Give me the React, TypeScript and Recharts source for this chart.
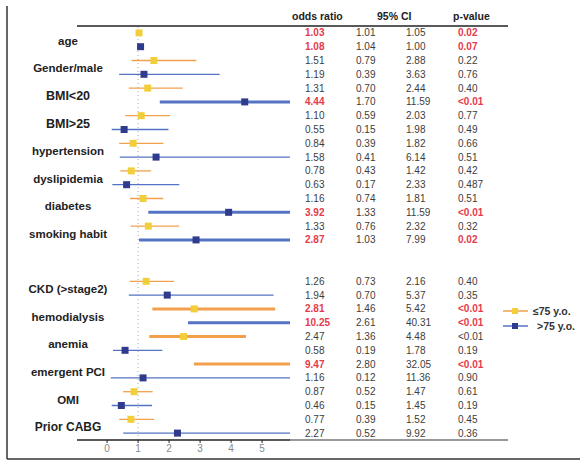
import React from 'react'
import { ComposedChart, Scatter, ErrorBar, XAxis, YAxis, ReferenceLine } from 'recharts'

const labels = ['age', 'Gender/male', 'BMI<20', 'BMI>25', 'hypertension', 'dyslipidemia', 'diabetes', 'smoking habit', 'CKD (>stage2)', 'hemodialysis', 'anemia', 'emergent PCI', 'OMI', 'Prior CABG']

// ≤75 y.o.
const youngOr = [1.03, 1.51, 1.31, 1.10, 0.84, 0.78, 1.16, 1.33, 1.26, 2.81, 2.47, 9.47, 0.87, 0.77]
const youngLow = [1.01, 0.79, 0.70, 0.59, 0.39, 0.43, 0.74, 0.76, 0.73, 1.46, 1.36, 2.80, 0.52, 0.39]
const youngHigh = [1.05, 2.88, 2.44, 2.03, 1.82, 1.42, 1.81, 2.32, 2.16, 5.42, 4.48, 32.05, 1.47, 1.52]
const youngP = ['0.02', '0.22', '0.40', '0.77', '0.66', '0.42', '0.51', '0.32', '0.40', '<0.01', '<0.01', '<0.01', '0.61', '0.45']
const youngRed = [1, 0, 0, 0, 0, 0, 0, 0, 0, 1, 0, 1, 0, 0]

// >75 y.o.
const oldOr = [1.08, 1.19, 4.44, 0.55, 1.58, 0.63, 3.92, 2.87, 1.94, 10.25, 0.58, 1.16, 0.46, 2.27]
const oldLow = [1.04, 0.39, 1.70, 0.15, 0.41, 0.17, 1.33, 1.03, 0.70, 2.61, 0.19, 0.12, 0.15, 0.52]
const oldHigh = [1.00, 3.63, 11.59, 1.98, 6.14, 2.33, 11.59, 7.99, 5.37, 40.31, 1.78, 11.36, 1.45, 9.92]
const oldP = ['0.07', '0.76', '<0.01', '0.49', '0.51', '0.487', '<0.01', '0.02', '0.35', '<0.01', '0.19', '0.90', '0.19', '0.36']
const oldRed = [1, 0, 1, 0, 0, 0, 1, 1, 0, 1, 0, 0, 0, 0]

const xTicks = [0, 1, 2, 3, 4, 5]
const X_MIN = -0.97
const X_MAX = 5.9

const ORANGE = '#f3a04c'
const YELLOW = '#f2cf3a'
const BLUE = '#5573c4'
const NAVY = '#2f3b8c'
const RED = '#e63a4a'
const TXT = '#3c3c3c'

const W = 580
const H = 462
const TOP = 26
const BOTTOM = 440
const ROWS = 30
const rowH = (BOTTOM - TOP) / ROWS

const rowOf = (i: number, g: number) => 2 * i + g + (i >= 8 ? 2 : 0)
const rowY = (r: number) => TOP + (r + 0.5) * rowH

// CI whiskers are cut at the axis range, like the clipped plot in the original
const build = (or: number[], low: number[], high: number[], g: number, thick: boolean) =>
  or
    .map((v, i) => ({
      x: v,
      y: rowOf(i, g),
      err: [v - Math.max(X_MIN, Math.min(v, low[i])), Math.min(X_MAX, Math.max(v, high[i])) - v],
      i,
    }))
    .filter((d) => (d.i > 0 && low[d.i] > 1) === thick)

const youngThin = build(youngOr, youngLow, youngHigh, 0, false)
const youngThick = build(youngOr, youngLow, youngHigh, 0, true)
const oldThin = build(oldOr, oldLow, oldHigh, 1, false)
const oldThick = build(oldOr, oldLow, oldHigh, 1, true)

const labelTicks = labels.map((_, i) => rowOf(i, 0) + 0.5)

const LabelTick = (props: any) => {
  const { y, payload } = props
  const idx = labelTicks.indexOf(payload.value)
  const text = labels[idx]
  const bmi = text.startsWith('BMI')
  const size = bmi ? 12.5 : text === 'Prior CABG' ? 12 : 11.5
  return (
    <text x={68} y={y + 1} dy="0.35em" textAnchor="middle" fontSize={size} fontWeight={bmi ? 600 : 700} fill="#222" fontFamily="Liberation Sans, Arial, sans-serif">
      {text}
    </text>
  )
}

const square = (fill: string) => (p: any) =>
  p.payload.x > X_MAX ? <g /> : <rect x={p.cx - 3.5} y={p.cy - 3.5} width={7} height={7} fill={fill} />

const colX = { or: 305, lo: 356, hi: 406, p: 458 }

function Table() {
  const rows: React.ReactNode[] = []
  labels.forEach((_, i) => {
    ;[0, 1].forEach((g) => {
      const or = g ? oldOr : youngOr
      const lo = g ? oldLow : youngLow
      const hi = g ? oldHigh : youngHigh
      const p = g ? oldP : youngP
      const red = (g ? oldRed : youngRed)[i]
      const y = rowY(rowOf(i, g))
      rows.push(
        <g key={`${i}-${g}`} fontSize={10} fontFamily="Liberation Sans, Arial, sans-serif">
          <text x={colX.or} y={y} dy="0.35em" fill={red ? RED : TXT} fontWeight={red ? 700 : 400}>{or[i].toFixed(2)}</text>
          <text x={colX.lo} y={y} dy="0.35em" fill={TXT}>{lo[i].toFixed(2)}</text>
          <text x={colX.hi} y={y} dy="0.35em" fill={TXT}>{hi[i].toFixed(2)}</text>
          <text x={colX.p} y={y} dy="0.35em" fill={red ? RED : TXT} fontWeight={red ? 700 : 400}>{p[i]}</text>
        </g>
      )
    })
  })
  return <>{rows}</>
}

export default function App() {
  return (
    <div style={{ position: 'absolute', left: 0, top: 0, width: W, height: H, background: '#fff' }}>
      <ComposedChart width={W} height={H} margin={{ top: TOP, right: W - 290, bottom: H - BOTTOM - 20, left: 0 }}>
        <XAxis
          type="number"
          dataKey="x"
          domain={[X_MIN, X_MAX]}
          allowDataOverflow
          ticks={xTicks}
          height={20}
          tick={{ fill: '#888', fontSize: 10, fontFamily: 'Liberation Sans, Arial, sans-serif' }}
          axisLine={{ stroke: '#222', strokeWidth: 1.5 }}
          tickLine={{ stroke: '#222' }}
          tickSize={3}
        />
        <YAxis
          type="number"
          dataKey="y"
          domain={[-0.5, ROWS - 0.5]}
          reversed
          width={77}
          ticks={labelTicks}
          interval={0}
          axisLine={false}
          tickLine={false}
          tick={<LabelTick />}
        />
        <ReferenceLine x={1} stroke="#aaa" strokeDasharray="1 3" />
        <Scatter data={youngThin} fill={YELLOW} shape={square(YELLOW)} isAnimationActive={false}>
          <ErrorBar dataKey="err" direction="x" width={0} stroke={ORANGE} strokeWidth={1.3} />
        </Scatter>
        <Scatter data={youngThick} fill={YELLOW} shape={square(YELLOW)} isAnimationActive={false}>
          <ErrorBar dataKey="err" direction="x" width={0} stroke={ORANGE} strokeWidth={3} />
        </Scatter>
        <Scatter data={oldThin} fill={NAVY} shape={square(NAVY)} isAnimationActive={false}>
          <ErrorBar dataKey="err" direction="x" width={0} stroke={BLUE} strokeWidth={1.3} />
        </Scatter>
        <Scatter data={oldThick} fill={NAVY} shape={square(NAVY)} isAnimationActive={false}>
          <ErrorBar dataKey="err" direction="x" width={0} stroke={BLUE} strokeWidth={3} />
        </Scatter>
      </ComposedChart>
      <svg width={W} height={H} style={{ position: 'absolute', left: 0, top: 0, pointerEvents: 'none' }}>
        <line x1={7} y1={6} x2={7} y2={459} stroke="#333" strokeWidth={1.5} />
        <line x1={7} y1={459} x2={W} y2={459} stroke="#333" strokeWidth={1.5} />
        <line x1={77} y1={TOP} x2={508} y2={TOP} stroke="#222" strokeWidth={1.3} />
        <line x1={290} y1={BOTTOM} x2={508} y2={BOTTOM} stroke="#333" strokeWidth={1.2} />
        <g fontSize={10.5} fontWeight={700} fill="#222" fontFamily="Liberation Sans, Arial, sans-serif">
          <text x={292} y={20}>odds ratio</text>
          <text x={377} y={20}>95% CI</text>
          <text x={453} y={20}>p-value</text>
        </g>
        <Table />
        <g fontFamily="Liberation Sans, Arial, sans-serif" fontSize={10.5} fontWeight={700} fill="#333">
          <line x1={503} y1={311} x2={528} y2={311} stroke={ORANGE} strokeWidth={1.5} />
          <rect x={512} y={308} width={6} height={6} fill={YELLOW} />
          <text x={533} y={311} dy="0.35em">≤75 y.o.</text>
          <line x1={503} y1={326} x2={528} y2={326} stroke={BLUE} strokeWidth={1.5} />
          <rect x={512} y={323} width={6} height={6} fill={NAVY} />
          <text x={537} y={326} dy="0.35em">&gt;75 y.o.</text>
        </g>
      </svg>
    </div>
  )
}
